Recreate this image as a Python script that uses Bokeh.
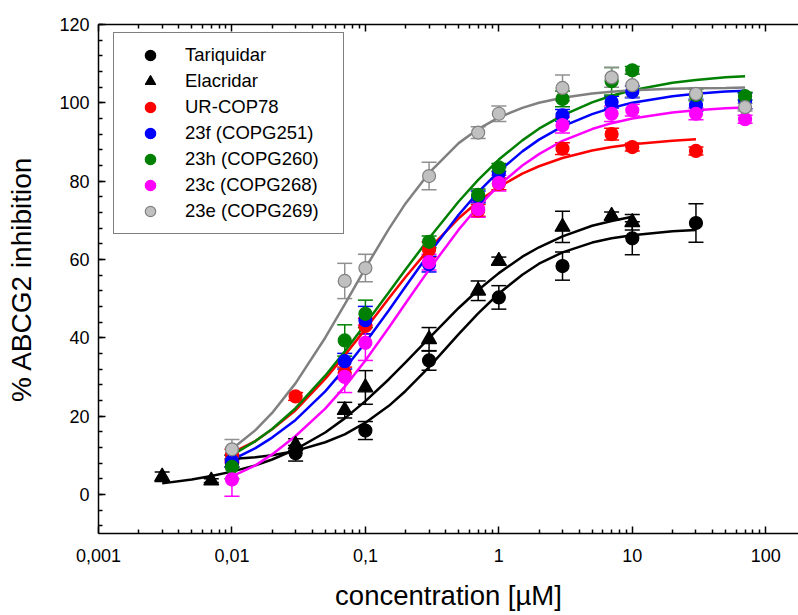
from bokeh.plotting import figure
from bokeh.models import (Range1d, FixedTicker, CustomJSTickFormatter, LogAxis, Whisker,
                          ColumnDataSource, TeeHead, Legend, LegendItem, SingleIntervalTicker)
from bokeh.embed import file_html
from bokeh.resources import INLINE

# ---------------- data ----------------
x_ticks = [0.001, 0.01, 0.1, 1, 10, 100]
y_ticks_interval = 20

# measured points: concentration (µM), % inhibition, error (±)
tar_x = [0.01, 0.03, 0.1, 0.3, 1, 3, 10, 30]
tar_y = [8.0, 10.5, 16.3, 34.2, 50.3, 58.3, 65.4, 69.3]
tar_e = [1.0, 2.0, 2.3, 2.5, 3.0, 3.6, 4.2, 4.9]

ela_x = [0.003, 0.007, 0.03, 0.07, 0.1, 0.3, 0.7, 1, 3, 7, 10]
ela_y = [4.5, 3.5, 12.7, 21.5, 27.3, 39.6, 52.0, 59.6, 68.3, 71.1, 69.5]
ela_e = [1.2, 0.5, 1.5, 2.0, 4.3, 3.0, 2.5, 1.0, 4.0, 1.0, 2.0]

ur_x = [0.01, 0.03, 0.07, 0.1, 0.3, 0.7, 1, 3, 7, 10, 30]
ur_y = [10.0, 25.0, 31.0, 43.0, 62.5, 72.5, 79.3, 88.3, 92.0, 88.7, 87.7]
ur_e = [1.5, 1.0, 1.5, 2.0, 2.0, 1.5, 1.5, 1.5, 1.5, 1.0, 1.0]

cmp_x = [0.01, 0.07, 0.1, 0.3, 0.7, 1, 3, 7, 10, 30, 70]
f_y = [8.5, 34.0, 44.5, 58.8, 76.0, 82.0, 96.8, 100.2, 102.8, 99.4, 100.5]
f_e = [1.5, 2.0, 3.5, 2.0, 1.5, 1.5, 1.5, 1.5, 1.5, 1.5, 2.0]
h_y = [7.0, 39.3, 46.1, 64.5, 76.5, 83.5, 101.0, 105.5, 108.3, 102.0, 101.7]
h_e = [3.0, 4.0, 3.5, 1.5, 1.5, 1.0, 2.0, 3.5, 1.0, 1.5, 1.0]
c_y = [3.8, 30.0, 38.7, 59.3, 72.8, 79.5, 94.3, 97.2, 98.1, 97.2, 95.8]
c_e = [4.3, 4.0, 4.5, 2.0, 2.0, 2.0, 2.0, 2.0, 1.5, 1.5, 1.0]
e_y = [11.5, 54.5, 57.8, 81.3, 92.4, 97.2, 103.8, 106.5, 104.5, 102.3, 98.9]
e_e = [2.5, 4.5, 3.5, 3.5, 1.5, 2.0, 3.3, 2.5, 3.0, 1.5, 1.0]

# fitted curves
fit_x = [0.01, 0.015, 0.02, 0.03, 0.05, 0.07, 0.1, 0.15, 0.2, 0.3, 0.5, 0.7,
         1, 1.5, 2, 3, 5, 7, 10, 20, 30, 50, 70]
fit_e = [11.6, 16.4, 20.8, 28.4, 40.0, 48.5, 57.8, 67.8, 74.3, 82.1, 89.7, 93.3,
         96.3, 98.7, 100.0, 101.3, 102.4, 102.8, 103.2, 103.6, 103.7, 103.8, 103.9]
fit_h = [10.0, 13.6, 16.7, 22.0, 30.3, 36.5, 43.5, 51.6, 57.4, 65.4, 74.8, 80.3,
         85.5, 90.4, 93.4, 96.8, 100.1, 101.8, 103.2, 105.1, 105.8, 106.5, 106.8]
fit_f = [8.8, 11.8, 14.5, 19.0, 26.3, 32.1, 38.8, 47.0, 53.1, 61.5, 71.4, 77.2,
         82.5, 87.6, 90.6, 94.0, 97.1, 98.7, 100.0, 101.7, 102.3, 102.9, 103.1]
fit_c = [4.6, 7.4, 10.2, 14.9, 21.9, 27.5, 34.2, 42.6, 48.8, 57.4, 67.6, 73.5,
         78.9, 84.0, 86.9, 90.3, 93.3, 94.8, 96.0, 97.5, 98.1, 98.6, 98.8]
fit_ur_x = fit_x[:21]
fit_ur = [10.6, 13.6, 16.6, 21.5, 29.5, 35.5, 42.2, 50.1, 55.5, 62.7, 70.5, 74.8,
          78.5, 81.9, 83.8, 85.9, 87.8, 88.7, 89.4, 90.3, 90.7]
fit_tar_x = fit_x[:21]
fit_tar = [9.0, 9.5, 10.0, 11.1, 13.3, 15.3, 18.3, 22.6, 26.4, 32.5, 40.9, 46.2,
           51.3, 56.1, 58.9, 61.8, 64.3, 65.4, 66.2, 67.2, 67.5]
fit_ela_x = [0.003, 0.005, 0.007, 0.01, 0.015, 0.02, 0.03, 0.05, 0.07, 0.1, 0.15,
             0.2, 0.3, 0.5, 0.7, 1, 1.5, 2, 3, 5, 7, 10]
fit_ela = [2.8, 3.8, 4.7, 5.8, 7.4, 8.9, 11.5, 15.8, 19.4, 23.8, 29.4,
           33.7, 39.9, 47.6, 52.2, 56.5, 60.7, 63.1, 65.9, 68.6, 69.8, 70.9]

labels = ["Tariquidar", "Elacridar", "UR-COP78", "23f (COPG251)", "23h (COPG260)",
          "23c (COPG268)", "23e (COPG269)"]

FONT = "Liberation Sans"

p = figure(width=798, height=615, x_axis_type="log",
           x_range=Range1d(0.001, 176), y_range=Range1d(-10, 120),
           output_backend="svg", toolbar_location=None,
           min_border_left=98, min_border_right=0, min_border_top=24, min_border_bottom=82)
p.outline_line_color = None
p.xgrid.visible = False
p.ygrid.visible = False
p.background_fill_color = "white"
p.border_fill_color = "white"

minor_x = [m * 10.0 ** k for k in range(-3, 3) for m in range(2, 10)]
xticker = FixedTicker(ticks=x_ticks, minor_ticks=minor_x)

fmt = CustomJSTickFormatter(code="""
const e = Math.round(Math.log10(tick));
if (e >= 0) { return Math.pow(10, e).toFixed(0); }
return "0," + "0".repeat(-e - 1) + "1";
""")

def style_axis(ax):
    ax.axis_line_width = 1.5
    ax.axis_line_color = "black"
    ax.major_tick_line_width = 1.5
    ax.minor_tick_line_width = 1.5
    ax.major_tick_line_color = "black"
    ax.minor_tick_line_color = "black"
    ax.major_tick_in = 7
    ax.major_tick_out = 0
    ax.minor_tick_in = 4
    ax.minor_tick_out = 0
    ax.major_label_text_font = FONT
    ax.major_label_text_font_size = "18px"
    ax.major_label_text_color = "black"
    ax.axis_label_text_font = FONT
    ax.axis_label_text_font_style = "normal"
    ax.axis_label_text_color = "black"

xa = p.xaxis[0]
style_axis(xa)
xa.ticker = xticker
xa.formatter = fmt
xa.major_label_standoff = 15
xa.axis_label = "concentration [µM]"
xa.axis_label_text_font_size = "27.5px"
xa.axis_label_standoff = 15

ya = p.yaxis[0]
style_axis(ya)
ya.ticker = SingleIntervalTicker(interval=y_ticks_interval, num_minor_ticks=5)
ya.major_label_standoff = 9
ya.axis_label = "% ABCG2 inhibition"
ya.axis_label_text_font_size = "28px"
ya.axis_label_standoff = 19

top = LogAxis(ticker=xticker, formatter=CustomJSTickFormatter(code='return "";'))
style_axis(top)
top.major_label_text_font_size = "1px"
top.major_label_text_alpha = 0
top.major_label_standoff = 0
p.add_layout(top, "above")

# ---------------- curves ----------------
GRAY_L = "#808080"
p.line(fit_tar_x, fit_tar, line_color="black", line_width=2.5)
p.line(fit_ela_x, fit_ela, line_color="black", line_width=2.5)
p.line(fit_ur_x, fit_ur, line_color="#ff0000", line_width=2.5)
p.line(fit_x, fit_f, line_color="#0000ff", line_width=2.5)
p.line(fit_x, fit_h, line_color="#008000", line_width=2.5)
p.line(fit_x, fit_c, line_color="#ff00ff", line_width=2.5)
p.line(fit_x, fit_e, line_color=GRAY_L, line_width=2.5)

# ---------------- points with error bars ----------------
series = [
    (tar_x, tar_y, tar_e, "circle", "black", "black", "black"),
    (ela_x, ela_y, ela_e, "triangle", "black", "black", "black"),
    (ur_x, ur_y, ur_e, "circle", "#ff0000", "#ff0000", "#ff0000"),
    (cmp_x, f_y, f_e, "circle", "#0000ff", "#0000ff", "#0000ff"),
    (cmp_x, h_y, h_e, "circle", "#008000", "#008000", "#008000"),
    (cmp_x, c_y, c_e, "circle", "#ff00ff", "#ff00ff", "#ff00ff"),
    (cmp_x, e_y, e_e, "circle", "#c0c0c0", GRAY_L, "#909090"),
]

renderers = []
for xs, ys, es, mk, fill, line, ecol in series:
    src = ColumnDataSource(dict(x=xs, y=ys,
                                lo=[a - b for a, b in zip(ys, es)],
                                hi=[a + b for a, b in zip(ys, es)]))
    w = Whisker(source=src, base="x", lower="lo", upper="hi", dimension="height",
                line_color=ecol, line_width=1.5,
                upper_head=TeeHead(size=15, line_color=ecol, line_width=1.5),
                lower_head=TeeHead(size=15, line_color=ecol, line_width=1.5))
    p.add_layout(w)
    size = 15 if mk == "triangle" else 13
    r = p.scatter("x", "y", source=src, marker=mk, size=size,
                  fill_color=fill, line_color=line, line_width=1.2)
    renderers.append(r)

legend = Legend(items=[LegendItem(label=lab, renderers=[r]) for lab, r in zip(labels, renderers)],
                location=(15, 299), padding=9, glyph_width=54, glyph_height=26, spacing=0,
                label_standoff=8, label_width=149, label_height=20, margin=0,
                border_line_color="black", border_line_width=1.3, background_fill_alpha=1.0,
                label_text_font=FONT, label_text_font_size="18.5px", label_text_color="black")
p.add_layout(legend)

open("out.html", "w").write(file_html(p, INLINE))
